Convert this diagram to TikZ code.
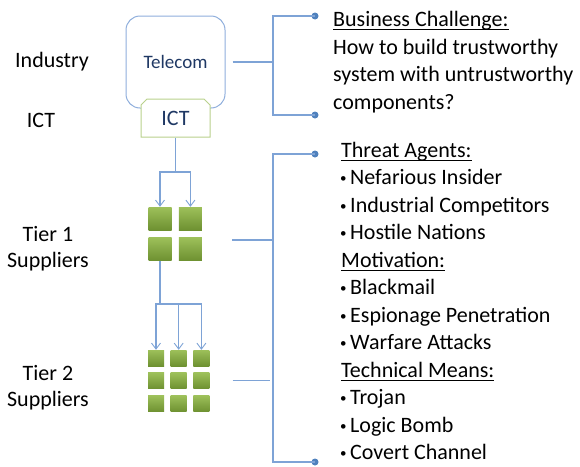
\documentclass[tikz,border=0pt]{standalone}
\usepackage{fontspec}
\setmainfont{Carlito}
\usetikzlibrary{
  positioning,
  shapes.misc,
  arrows.meta
}
\definecolor{linkblue}{HTML}{7EA3D6}
\definecolor{dotblue}{HTML}{4F81BD}
\definecolor{navy}{HTML}{1F3864}
\definecolor{telecomline}{HTML}{8FAEDC}
\definecolor{ictline}{HTML}{B9D18C}
\definecolor{partlight}{HTML}{9DC05A}
\definecolor{partdark}{HTML}{6E9131}
\tikzset{
  link/.style={draw=linkblue, line width=1.1pt},
  flow/.style={link, -{Straight Barb[length=6pt,width=9pt,line width=0.9pt]}},
  dot/.style={circle, fill=dotblue, inner sep=0pt, minimum size=7pt},
  part/.style={rectangle, inner sep=0pt, top color=partlight, bottom color=partdark},
  tag/.style={inner sep=0pt, font=\fontsize{22}{25.5}\selectfont},
  notes/.style={inner sep=0pt, anchor=north west, align=left, font=\fontsize{22}{27.5}\selectfont}
}
\newsavebox\headbox
\providecommand{\heading}[1]{\sbox\headbox{#1}\rlap{\rule[-3.6pt]{\wd\headbox}{0.9pt}}\usebox\headbox}
\providecommand{\itm}{\makebox[9pt][l]{\hspace{-1pt}\raisebox{2pt}{\fontsize{13}{13}\selectfont •}}}

\begin{document}
\begin{tikzpicture}[x=1pt,y=-1pt]
    \useasboundingbox (0,0) rectangle (580,466);
    % left column
    \node (industry) [tag, anchor=base] at (52,67) {Industry};
    \node (ictlabel) [tag, anchor=base] at (41,127) {ICT};
    \node (tier1) [tag, anchor=north, align=center] at (48,223.9) {\strut Tier 1\\Suppliers};
    \node (tier2) [tag, anchor=north, align=center] at (48,362.9) {\strut Tier 2\\Suppliers};
    % telecom and ict
    \node (telecom) [rectangle, rounded corners=14pt, draw=telecomline, line width=1pt,
      minimum width=99pt, minimum height=92pt, text=navy, font=\fontsize{19}{22}\selectfont] at (175.5,62) {Telecom};
    \node (ict) [chamfered rectangle, chamfered rectangle corners={north west,north east},
      chamfered rectangle xsep=3pt, chamfered rectangle ysep=3pt, draw=ictline, line width=1pt, fill=white,
      minimum width=69pt, minimum height=38pt, inner sep=0pt, text=navy, font=\fontsize{22}{26}\selectfont] at (175.5,118) {ICT};
    % tier 1
    \node (t1a) [part, minimum size=23pt] at (160,218.5) {};
    \node (t1b) [part, minimum size=23pt, right=7pt of t1a] {};
    \node (t1c) [part, minimum size=23pt, below=7pt of t1a] {};
    \node (t1d) [part, minimum size=23pt, below=7pt of t1b] {};
    % tier 2
    \foreach \r in {1,2,3}
      \foreach \c in {1,2,3}
        \node (t2\r\c) [part, minimum size=16pt] at ({156+22.7*(\c-1)},{358+22.8*(\r-1)}) {};
    % supply arrows
    \coordinate (hubA) at (ict.south |- 0,172);
    \draw [link] (ict.south) -- (hubA);
    \draw [flow] (hubA) -| (t1a.north);
    \draw [flow] (hubA) -| (t1b.north);
    \coordinate (hubB) at (t1c.south |- 0,304);
    \draw [link] (t1c.south) -- (hubB);
    \foreach \c in {1,2,3}
      \draw [flow] (hubB) -| (t21\c.north);
    % brackets
    \node (bizTop) [dot] at (315,16) {};
    \node (bizBot) [dot] at (315,115) {};
    \coordinate (bizJoin) at (273,62);
    \draw [link] (bizTop.center) -| (bizJoin) |- (bizBot.center);
    \draw [link, shorten <=7pt] (telecom.east) -- (bizJoin);
    \node (thrTop) [dot] at (315,154) {};
    \node (thrBot) [dot] at (315,462) {};
    \coordinate (thrJoin) at (273,240);
    \draw [link] (thrTop.center) -| (thrJoin) |- (thrBot.center);
    \draw [link] ([xshift=30pt]t1b.east |- thrJoin) -- (thrJoin);
    \draw [link, shorten >=3pt] ([xshift=23pt]t223.east) -- (t223 -| thrJoin);
    % notes
    \node (business) [notes] at (333,7.3) {\strut\heading{Business Challenge:}\\How to build trustworthy\\system with untrustworthy\\components?};
    \node (threats) [notes] at (341,137.6) {\strut\heading{Threat Agents:}\\\itm Nefarious Insider\\\itm Industrial Competitors\\\itm Hostile Nations\\
      \heading{Motivation:}\\\itm Blackmail\\\itm Espionage Penetration\\\itm Warfare Attacks\\
      \heading{Technical Means:}\\\itm Trojan\\\itm Logic Bomb\\\itm Covert Channel};
\end{tikzpicture}
\end{document}
